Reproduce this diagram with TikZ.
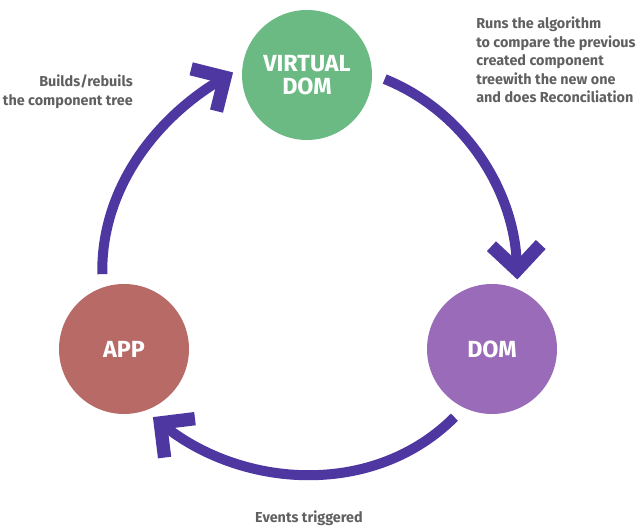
\documentclass[tikz,border=0pt]{standalone}
\usepackage{fontspec}
\setmainfont{Fira Sans}
\usetikzlibrary{arrows.meta}
\definecolor{vdomgreen}{RGB}{107,186,131}
\definecolor{appred}{RGB}{184,106,103}
\definecolor{dompurple}{RGB}{153,107,185}
\definecolor{flowblue}{RGB}{79,55,161}
\definecolor{notegrey}{RGB}{96,96,96}
\begin{document}
\begin{tikzpicture}[x=0.75pt,y=0.75pt,
  bubble/.style={circle,minimum size=97.5pt,inner sep=0pt,outer sep=6.75pt,text=white,align=center,
    font=\fontsize{17.5}{17}\selectfont\bfseries},
  note/.style={text=notegrey,inner sep=0pt,font=\fontsize{10.8}{13.9}\selectfont\bfseries},
  flow/.style={draw=flowblue,line width=7.5pt,
    -{Straight Barb[sharp,length=18.5pt,width=37pt,line width=10pt]},shorten <=3pt}]
  \useasboundingbox (0,0) rectangle (640,527);
  % the three stages sit on one big circle, the arrows follow it
  \node[bubble,fill=vdomgreen] (vdom) at (307,452) {VIRTUAL\\DOM};
  \node[bubble,fill=appred] (app) at (124,178) {APP};
  \node[bubble,fill=dompurple] (dom) at (492,178) {DOM};
  \draw[flow] (app.107) to[out=91,in=211,looseness=0.94] (vdom.178);
  \draw[flow] (vdom.-2) to[out=-22,in=92,looseness=0.94] (dom.70);
  \draw[flow] (dom.242) to[out=225,in=322,looseness=0.98] (app.293);
  \node[note,align=right,anchor=east] (buildnote) at (133,435) {Builds/rebuils\\the component tree};
  \node[note,align=left,anchor=west] (runnote) at (476,467) {Runs the algorithm\\to compare the previous\\created component\\treewith the new one\\and does Reconciliation};
  \node[note] (eventnote) at (309,9) {Events triggered};
\end{tikzpicture}
\end{document}
